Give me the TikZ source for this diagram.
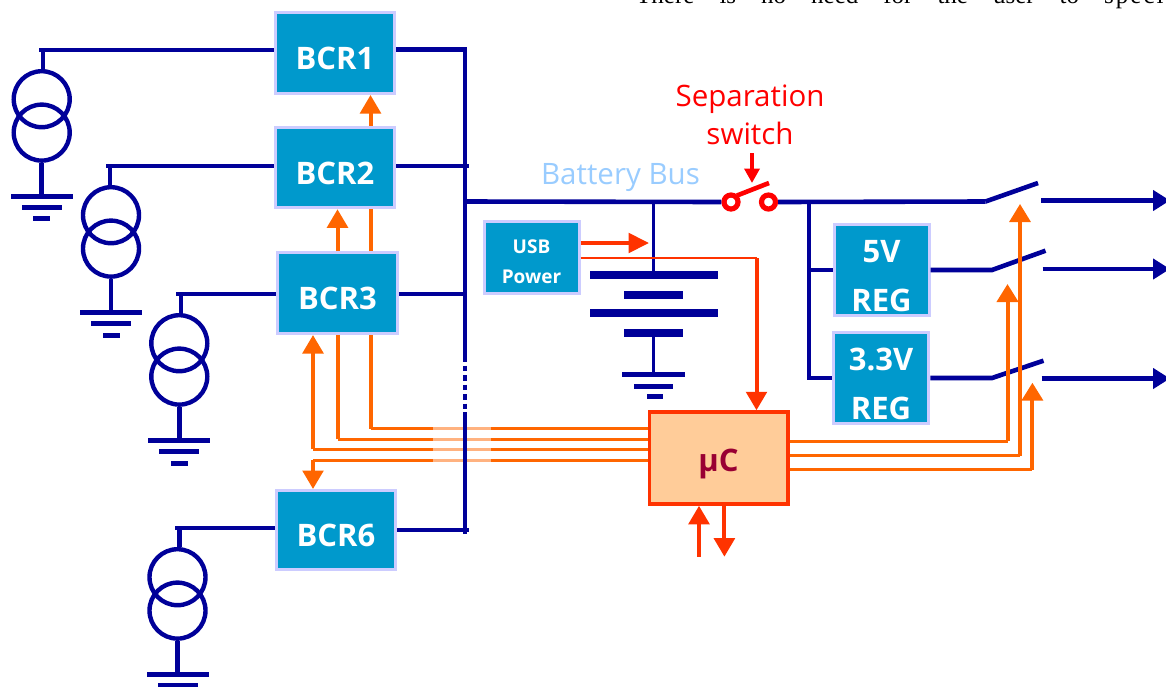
\documentclass[tikz,border=0pt]{standalone}
\usepackage{fontspec}
\setmainfont{Open Sans}
\newfontfamily\timesf{Liberation Serif}
\usetikzlibrary{arrows.meta}
\definecolor{navy}{HTML}{000099}
\definecolor{boxblue}{HTML}{0099CC}
\definecolor{lav}{HTML}{CCCCFF}
\definecolor{orng}{HTML}{FF6600}
\definecolor{redo}{HTML}{FF3300}
\definecolor{mcufill}{HTML}{FFCC99}
\definecolor{mcutext}{HTML}{990033}
\definecolor{buslabel}{HTML}{99CCFF}
\newcommand{\lowr}{\rule{0pt}{34pt}}
\tikzset{
  wire/.style={draw=navy,line width=4.6pt},
  thinwire/.style={draw=navy,line width=3.8pt},
  coil/.style={circle,draw=navy,line width=4.4pt,minimum size=56pt,inner sep=0pt},
  gndbar/.style={fill=navy,inner sep=0pt,minimum height=5pt},
  plate/.style={fill=navy,inner sep=0pt,minimum height=8pt},
  blk/.style={rectangle,draw=lav,line width=3pt,fill=boxblue,inner sep=0pt,text=white,font=\fontsize{31}{49}\selectfont\bfseries,align=center},
  ohoriz/.style={draw=orng,line width=3pt},
  overt/.style={draw=orng,line width=4pt},
  rhoriz/.style={draw=redo,line width=2.2pt},
  rvert/.style={draw=redo,line width=4pt},
  bigtip/.style={-{Triangle[length=18.5pt,width=20.5pt]}},
  outtip/.style={-{Triangle[length=18pt,width=21pt]}},
  lbl/.style={inner sep=0pt,font=\fontsize{29.5}{37.5}\selectfont,align=center},
  swc/.style={circle,draw=red,line width=5.2pt,minimum size=14pt,inner sep=0pt},
}
\newcommand{\PVsrc}[5]{%
  \coordinate (#1w) at (#2,#4);
  \coordinate (#1s) at (#3,#4);
  \node[coil] (#1a) at (#5,#4+49.2) {};
  \node[coil] (#1b) at (#5,#4+82.6) {};
  \node[gndbar,minimum width=62pt] (#1g) at (#5,#4+146.5) {};
  \node[gndbar,minimum width=40pt] (#1h) at (#5,#4+157.7) {};
  \draw[wire] (#1s) -- (#1s |- #1a.north);
  \draw[wire] (#1b.south) -- (#1g.center);
}
\begin{document}
\begin{tikzpicture}[x=1pt,y=-1pt]
\useasboundingbox (0,0) rectangle (1166,686);

% cut-off running text of the page above
\node[anchor=base west,inner sep=0pt,font=\timesf\fontsize{25}{28}\selectfont] (pagetext) at (636,3) {\spaceskip=25pt\relax There is no need for the user to {\addfontfeature{LetterSpace=8}specify}};

% blocks
\node[blk,minimum width=119pt,minimum height=81pt] (bcr1) at (335,53) {\lowr BCR1};
\node[blk,minimum width=119pt,minimum height=80.5pt] (bcr2) at (335,167.5) {\lowr BCR2};
\node[blk,minimum width=120pt,minimum height=81pt] (bcr3) at (337.5,293) {\lowr BCR3};
\node[blk,minimum width=119pt,minimum height=79pt] (bcr6) at (336,530) {\lowr BCR6};
\node[blk,minimum width=95pt,minimum height=91pt] (reg5) at (881.5,270) {\lowr 5V\\REG};
\node[blk,minimum width=95.5pt,minimum height=91pt] (reg3) at (881,378) {\lowr 3.3V\\REG};
\node[blk,minimum width=95pt,minimum height=72pt,font=\fontsize{19}{30.5}\selectfont\bfseries] (usb) at (531.5,257.5) {\rule{0pt}{22pt}USB\\Power};
\node[rectangle,draw=redo,line width=3.5pt,fill=mcufill,minimum width=138.5pt,minimum height=92pt,inner sep=0pt,text=mcutext,font=\fontsize{31}{34}\selectfont\bfseries] (mcu) at (718.5,458) {\lowr µC};

% labels
\node[lbl,text=buslabel] (buslbl) at (620.5,178) {Battery Bus};
\node[lbl,text=red] (seplbl) at (750,115) {Separation\\switch};

% orange control lines, left side
\coordinate (c1) at (370.5,428.7);
\coordinate (c2) at (337.5,439.3);
\coordinate (c3) at (313,449.3);
\coordinate (c4) at (313,460.3);
\draw[ohoriz] (c1 -| mcu.west) -- (c1);
\draw[ohoriz] (c2 -| mcu.west) -- (c2);
\draw[ohoriz] (c3 -| mcu.west) -- (c3);
\draw[ohoriz] (c4 -| mcu.west) -- (c4);
\draw[overt] (c1) -- (c1 |- bcr3.south);
\draw[overt] (c1 |- bcr3.north) -- (c1 |- bcr2.south);
\draw[overt,bigtip] (c1 |- bcr2.north) -- (c1 |- bcr1.south);
\draw[overt] (c2) -- (c2 |- bcr3.south);
\draw[overt,bigtip] (c2 |- bcr3.north) -- (c2 |- bcr2.south);
\draw[overt,bigtip] (c3) -- (c3 |- bcr3.south);
\draw[overt,bigtip] (c4) -- (c4 |- bcr6.north);
\fill[white,opacity=0.5] (433,425) rectangle (491,464);

% battery bus collector
\coordinate (bust) at (465,47.5);
\coordinate (busa) at (465,356);
\coordinate (busc) at (465,412);
\coordinate (busb) at (465,534);
\draw[wire] (bust) -- (busa);
\draw[wire,dash pattern=on 5.5pt off 4pt] (busa) -- (busc);
\draw[wire] (busc) -- (busb);
\coordinate (j1) at (467,49.5);
\coordinate (j2) at (469,166);
\coordinate (j3) at (465,294);
\coordinate (j6) at (469,530);
\draw[wire] (j1 -| bcr1.east) -- (j1);
\draw[wire] (j2 -| bcr2.east) -- (j2);
\draw[wire] (j3 -| bcr3.east) -- (j3);
\draw[wire] (j6 -| bcr6.east) -- (j6);

% solar array sources
\PVsrc{sa}{39}{43}{50}{41.7}
\PVsrc{sb}{106}{110}{166}{111}
\PVsrc{sc}{176}{181}{294}{179.3}
\PVsrc{sd}{175}{179.5}{528}{177.5}
\node[gndbar,minimum width=17pt] (sai) at (41.7,218.5) {};
\node[gndbar,minimum width=17pt] (sbi) at (111,335) {};
\node[gndbar,minimum width=17pt] (sci) at (179.3,463.7) {};
\draw[wire] (saw) -- (saw -| bcr1.west);
\draw[wire] (sbw) -- (sbw -| bcr2.west);
\draw[wire] (scw) -- (scw -| bcr3.west);
\draw[wire] (sdw) -- (sdw -| bcr6.west);

% separation switch and main bus
\node[swc] (swl) at (731,202) {};
\node[swc] (swr) at (768.5,202) {};
\coordinate (busj) at (465,201.5);
\coordinate (bush) at (985.5,201.5);
\coordinate (armA) at (737,195.5);
\coordinate (armB) at (769,183);
\coordinate (septop) at (752,153);
\draw[wire] (busj) -- (swl.west);
\draw[wire] (swr.east) -- (bush);
\draw[draw=red,line width=4.6pt] (armA) -- (armB);
\draw[draw=red,line width=3.8pt,-{Triangle[length=14.5pt,width=15pt]}] (septop) -- (septop |- armB);

% battery
\node[plate,minimum width=128pt] (p1) at (653.5,275) {};
\node[plate,minimum width=59pt] (p2) at (653.5,295) {};
\node[plate,minimum width=128pt] (p3) at (653.5,313) {};
\node[plate,minimum width=59pt] (p4) at (653.5,333) {};
\node[gndbar,minimum width=62.5pt] (bg1) at (653.5,374.5) {};
\node[gndbar,minimum width=39.5pt] (bg2) at (653.5,386.5) {};
\node[gndbar,minimum width=16pt] (bg3) at (655,396.5) {};
\draw[thinwire] (busj -| p1.north) -- (p1.north);
\draw[thinwire] (p4.south) -- (bg1.north);

% regulator feeds and outputs
\coordinate (rb) at (809,201.5);
\coordinate (rc) at (809,378);
\coordinate (r5) at (809,270);
\draw[thinwire] (rb) -- (rc) -- (rc -| reg3.west);
\draw[thinwire] (r5) -- (reg5.west);
\coordinate (s1b) at (1038,183);
\coordinate (s2a) at (992,270);
\coordinate (s2b) at (1045.5,250.7);
\coordinate (s3a) at (992,378);
\coordinate (s3b) at (1043.5,360.7);
\draw[wire] (bush) -- (s1b);
\draw[wire] (reg5.east |- s2a) -- (s2a) -- (s2b);
\draw[wire] (reg3.east |- s3a) -- (s3a) -- (s3b);
\coordinate (o1) at (1041,200.5);
\coordinate (o2) at (1042.5,269);
\coordinate (o3) at (1041.5,378.5);
\coordinate (tip1) at (1170,200.5);
\coordinate (tip2) at (1170,269);
\coordinate (tip3) at (1170,378.5);
\draw[wire,-{Triangle[length=17pt,width=20pt]}] (o1) -- (tip1);
\draw[wire,-{Triangle[length=17pt,width=20pt]}] (o2) -- (tip2);
\draw[wire,-{Triangle[length=17pt,width=20pt]}] (o3) -- (tip3);

% orange control lines, right side
\coordinate (d1) at (1007.5,441.3);
\coordinate (d2) at (1020,455.7);
\coordinate (d3) at (1032.4,469.7);
\coordinate (t1) at (1007.5,284);
\coordinate (t2) at (1020,204);
\coordinate (t3) at (1032.4,382.7);
\draw[ohoriz] (d1 -| mcu.east) -- (d1);
\draw[ohoriz] (d2 -| mcu.east) -- (d2);
\draw[ohoriz] (d3 -| mcu.east) -- (d3);
\draw[overt,outtip] (d1) -- (t1);
\draw[draw=orng,line width=3.2pt,outtip] (d2) -- (t2);
\draw[overt,outtip] (d3) -- (t3);

% USB and microcontroller signals
\coordinate (ua) at (653,243);
\coordinate (ub) at (756.5,258.3);
\draw[rvert,-{Triangle[length=20.5pt,width=19.5pt]}] (usb.east |- ua) -- (649,243);
\draw[rhoriz] (usb.east |- ub) -- (ub);
\draw[rvert,bigtip] (ub) -- (ub |- mcu.north);
\coordinate (ma) at (699,556.7);
\coordinate (mb) at (724.4,556.7);
\draw[rvert,bigtip] (ma) -- (ma |- mcu.south);
\draw[rvert,bigtip] (mb |- mcu.south) -- (mb);
\end{tikzpicture}
\end{document}
